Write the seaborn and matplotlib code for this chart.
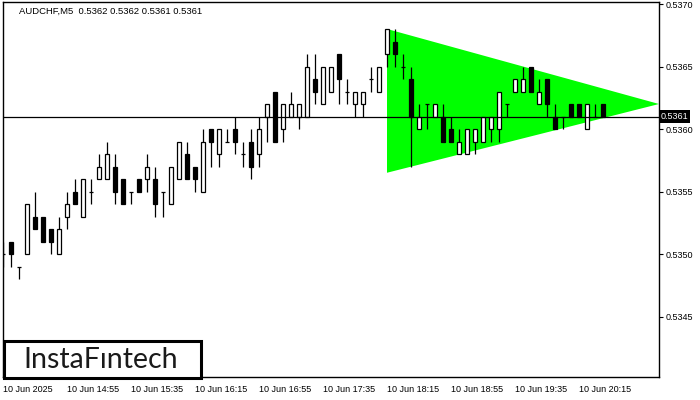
import matplotlib
matplotlib.use("Agg")
import matplotlib.pyplot as plt
from matplotlib.patches import Rectangle
import seaborn as sns
import numpy as np

# ---- data ----
opens = [0.5350, 0.5351, 0.5349, 0.5350, 0.5353, 0.5353, 0.5352, 0.5350, 0.5353, 0.5355,
         0.5353, 0.5355, 0.5356, 0.5356, 0.5357, 0.5356, 0.5355, 0.5356, 0.5356, 0.5356,
         0.5355, 0.5354, 0.5356, 0.5358, 0.5357, 0.5355, 0.5360, 0.5358, 0.5359, 0.5360,
         0.5358, 0.5359, 0.5358, 0.5361, 0.5363, 0.5360, 0.5361, 0.5361, 0.5361, 0.5364,
         0.5362, 0.5363, 0.5366, 0.5363, 0.5362, 0.5362, 0.5364, 0.5363, 0.5366, 0.5367,
         0.5365, 0.5364, 0.5360, 0.5362, 0.5361, 0.5361, 0.5360, 0.5358, 0.5358, 0.5359,
         0.5359, 0.5360, 0.5360, 0.5362, 0.5363, 0.5363, 0.5365, 0.5362, 0.5364, 0.5361,
         0.5361, 0.5362, 0.5362, 0.5360, 0.5361, 0.5362]
highs = [0.5351, 0.5351, 0.5349, 0.5354, 0.5355, 0.5353, 0.5352, 0.5353, 0.5355, 0.5356,
         0.5356, 0.5356, 0.5358, 0.5359, 0.5358, 0.5356, 0.5355, 0.5356, 0.5358, 0.5357,
         0.5355, 0.5357, 0.5359, 0.5359, 0.5357, 0.5360, 0.5360, 0.5360, 0.5360, 0.5361,
         0.5359, 0.5360, 0.5361, 0.5362, 0.5363, 0.5362, 0.5363, 0.5362, 0.5366, 0.5366,
         0.5365, 0.5365, 0.5366, 0.5364, 0.5363, 0.5363, 0.5365, 0.5365, 0.5368, 0.5368,
         0.5366, 0.5365, 0.5362, 0.5362, 0.5362, 0.5362, 0.5361, 0.5360, 0.5360, 0.5360,
         0.5361, 0.5361, 0.5363, 0.5362, 0.5364, 0.5365, 0.5365, 0.5364, 0.5364, 0.5362,
         0.5361, 0.5362, 0.5362, 0.5362, 0.5362, 0.5362]
lows = [0.5349, 0.5349, 0.5348, 0.5350, 0.5352, 0.5351, 0.5350, 0.5350, 0.5352, 0.5354,
        0.5353, 0.5354, 0.5356, 0.5356, 0.5354, 0.5354, 0.5354, 0.5355, 0.5355, 0.5353,
        0.5353, 0.5354, 0.5356, 0.5356, 0.5355, 0.5355, 0.5357, 0.5357, 0.5359, 0.5358,
        0.5357, 0.5356, 0.5357, 0.5359, 0.5359, 0.5359, 0.5361, 0.5360, 0.5361, 0.5362,
        0.5362, 0.5363, 0.5362, 0.5362, 0.5361, 0.5361, 0.5363, 0.5363, 0.5365, 0.5365,
        0.5364, 0.5357, 0.5360, 0.5360, 0.5361, 0.5359, 0.5359, 0.5358, 0.5358, 0.5358,
        0.5359, 0.5359, 0.5359, 0.5361, 0.5363, 0.5363, 0.5363, 0.5362, 0.5361, 0.5360,
        0.5360, 0.5361, 0.5361, 0.5360, 0.5361, 0.5361]
closes = [0.5350, 0.5350, 0.5349, 0.5354, 0.5352, 0.5351, 0.5351, 0.5352, 0.5354, 0.5354,
          0.5356, 0.5355, 0.5357, 0.5358, 0.5355, 0.5354, 0.5355, 0.5355, 0.5357, 0.5354,
          0.5355, 0.5357, 0.5359, 0.5356, 0.5356, 0.5359, 0.5359, 0.5360, 0.5359, 0.5359,
          0.5358, 0.5357, 0.5360, 0.5362, 0.5359, 0.5362, 0.5362, 0.5362, 0.5365, 0.5363,
          0.5365, 0.5365, 0.5364, 0.5363, 0.5363, 0.5363, 0.5364, 0.5365, 0.5368, 0.5366,
          0.5365, 0.5361, 0.5361, 0.5362, 0.5362, 0.5359, 0.5359, 0.5359, 0.5360, 0.5360,
          0.5361, 0.5361, 0.5363, 0.5362, 0.5364, 0.5364, 0.5363, 0.5363, 0.5362, 0.5360,
          0.5361, 0.5361, 0.5361, 0.5362, 0.5361, 0.5361]

x_tick_pos = [0, 8, 16, 24, 32, 40, 48, 56, 64, 72]
x_tick_labels = ["10 Jun 2025", "10 Jun 14:55", "10 Jun 15:35", "10 Jun 16:15",
                 "10 Jun 16:55", "10 Jun 17:35", "10 Jun 18:15", "10 Jun 18:55",
                 "10 Jun 19:35", "10 Jun 20:15"]
y_ticks = [0.5345, 0.5350, 0.5355, 0.5360, 0.5365, 0.5370]
current_price = 0.5361
tri_x = [48, 82, 48]
tri_y = [0.5368, 0.5362, 0.53565]
title_text = "AUDCHF,M5  0.5362 0.5362 0.5361 0.5361"
logo_text = "InstaF\u0131ntech"

# ---- style ----
sns.set_style("white")
plt.rcParams['font.family'] = ['Liberation Sans', 'DejaVu Sans']

W, H = 700, 400
fig = plt.figure(figsize=(7, 4), dpi=100)
fig.patch.set_facecolor("white")
ax = fig.add_axes([2.7 / W, 1 - 377 / H, (659 - 2.7) / W, (377 - 2) / H])
ax.set_facecolor("white")

x = np.arange(len(opens))
o = np.array(opens); c = np.array(closes); h = np.array(highs); l = np.array(lows)

# triangle pattern
ax.fill(tri_x, tri_y, color="#00FF00", lw=0, zorder=1)

# wicks
ax.vlines(x, l, h, color="black", lw=0.9, zorder=2)

bw = 0.62
up = c > o
dn = c < o
eq = c == o
ax.bar(x[up], (c - o)[up], bottom=o[up], width=bw, color="white",
       edgecolor="black", linewidth=0.9, zorder=3)
ax.bar(x[dn], (o - c)[dn], bottom=c[dn], width=bw, color="black",
       edgecolor="black", linewidth=0.9, zorder=3)
ax.hlines(o[eq], x[eq] - bw / 2, x[eq] + bw / 2, color="black", lw=0.9, zorder=3)

# current price line
ax.axhline(current_price, color="black", lw=0.9, zorder=4)

ax.set_xlim(-0.04, 82.0)
ax.set_ylim(0.5370 - 373 / 125000, 0.5370 + 2 / 125000)

ax.yaxis.tick_right()
ax.set_yticks(y_ticks)
ax.set_yticklabels([f"{v:.4f}" for v in y_ticks])
ax.set_xticks(x_tick_pos)
ax.set_xticklabels(x_tick_labels, ha="left")
ax.tick_params(axis="both", direction="out", length=3, width=0.8, color="black",
               labelsize=6.5, labelcolor="black", pad=2)
ax.tick_params(axis="x", pad=3)
for s in ax.spines.values():
    s.set_color("black")
    s.set_linewidth(1.0)
    s.set_visible(True)

# current price label
ax.text(1.0025, current_price, f"{current_price:.4f}", transform=ax.get_yaxis_transform(),
        ha="left", va="center", color="white", fontsize=6.5, zorder=10, clip_on=False,
        bbox=dict(facecolor="black", edgecolor="none", pad=1.2))

# title
fig.text(19 / W, 1 - 11 / H, title_text, fontsize=6.8, ha="left", va="center", color="black")

# logo
fig.add_artist(Rectangle((3.5 / W, 1 - 378 / H), 197.5 / W, 37 / H, transform=fig.transFigure,
                         facecolor="white", edgecolor="black", lw=2.2, zorder=20))
fig.text(101 / W, 1 - 360 / H, logo_text, fontsize=20.5, ha="center", va="center",
         color="#1a1a1a", family=["Lato", "DejaVu Sans"], zorder=21)

fig.savefig("out.png", dpi=100, facecolor="white")
